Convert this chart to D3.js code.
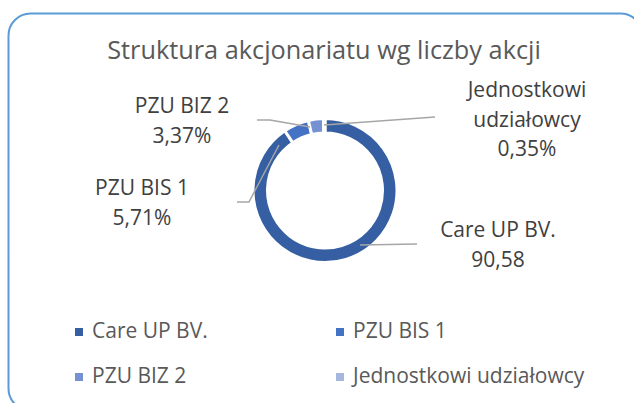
<!DOCTYPE html>
<html><head><meta charset="utf-8">
<script src="https://cdn.jsdelivr.net/npm/d3@7"></script>
<style>html,body{margin:0;padding:0;background:#fff;}svg{display:block;}</style>
</head><body>
<script>
const title = "Struktura akcjonariatu wg liczby akcji";
const categories = ["Care UP BV.", "PZU BIS 1", "PZU BIZ 2", "Jednostkowi udziałowcy"];
const values = [90.58, 5.71, 3.37, 0.35];
const labelLines = [["Care UP BV.", "90,58"], ["PZU BIS 1", "5,71%"], ["PZU BIZ 2", "3,37%"], ["Jednostkowi", "udziałowcy", "0,35%"]];
const colors = ["#365fa3", "#4472c4", "#7591d2", "#a7b6de"];

const W = 634, H = 403;
const svg = d3.select("body").append("svg").attr("width", W).attr("height", H);
const font = "'Open Sans', sans-serif";

svg.append("rect").attr("x", 8.5).attr("y", 13.5).attr("width", 634).attr("height", 397)
  .attr("rx", 22).attr("fill", "#fff").attr("stroke", "#5b9bd5").attr("stroke-width", 2);

svg.append("text").attr("x", 324).attr("y", 59).attr("text-anchor", "middle")
  .attr("font-family", font).attr("font-size", 25.3).attr("fill", "#595959").text(title);

const cx = 325, cy = 190.5, rOut = 72, rIn = 57.5;
const pie = d3.pie().sort(null).value(d => d)(values);
const arc = d3.arc().innerRadius(rIn).outerRadius(rOut);
const g = svg.append("g").attr("transform", `translate(${cx},${cy})`);
g.selectAll("path").data(pie).join("path").attr("d", arc)
  .attr("fill", (d, i) => colors[i]).attr("stroke", "#fff").attr("stroke-width", 3);

// label layout: label centre x, first baseline y, leader line path (relative to ring centre)
const labelLayout = [
  {x: 498, y: 237, pts: [[35, 54.5], [92, 53.5]]},
  {x: 142, y: 195, pts: [[-46, -45.5], [-76, 11.5], [-88, 11.5]]},
  {x: 182, y: 113, pts: [[-15, -63.5], [-55, -70.5], [-68, -70.5]]},
  {x: 527, y: 97, pts: [[-1, -65.5], [110, -73.5]]}
];
const line = d3.line();
labelLayout.forEach((L, i) => {
  g.append("path").attr("d", line(L.pts)).attr("fill", "none")
    .attr("stroke", "#a6a6a6").attr("stroke-width", 1.5);
  const t = svg.append("text").attr("text-anchor", "middle").attr("font-family", font)
    .attr("font-size", 21).attr("fill", "#404040");
  labelLines[i].forEach((s, j) => {
    t.append("tspan").attr("x", L.x).attr("y", L.y + j * 29.5).text(s);
  });
});

// legend
const legPos = [[75, 338], [336, 338], [75, 383], [336, 383]];
categories.forEach((c, i) => {
  svg.append("rect").attr("x", legPos[i][0]).attr("y", legPos[i][1] - 10).attr("width", 8).attr("height", 8)
    .attr("fill", colors[i]);
  svg.append("text").attr("x", legPos[i][0] + 17).attr("y", legPos[i][1]).attr("font-family", font)
    .attr("font-size", 21).attr("fill", "#595959").text(c);
});
</script>
</body></html>
